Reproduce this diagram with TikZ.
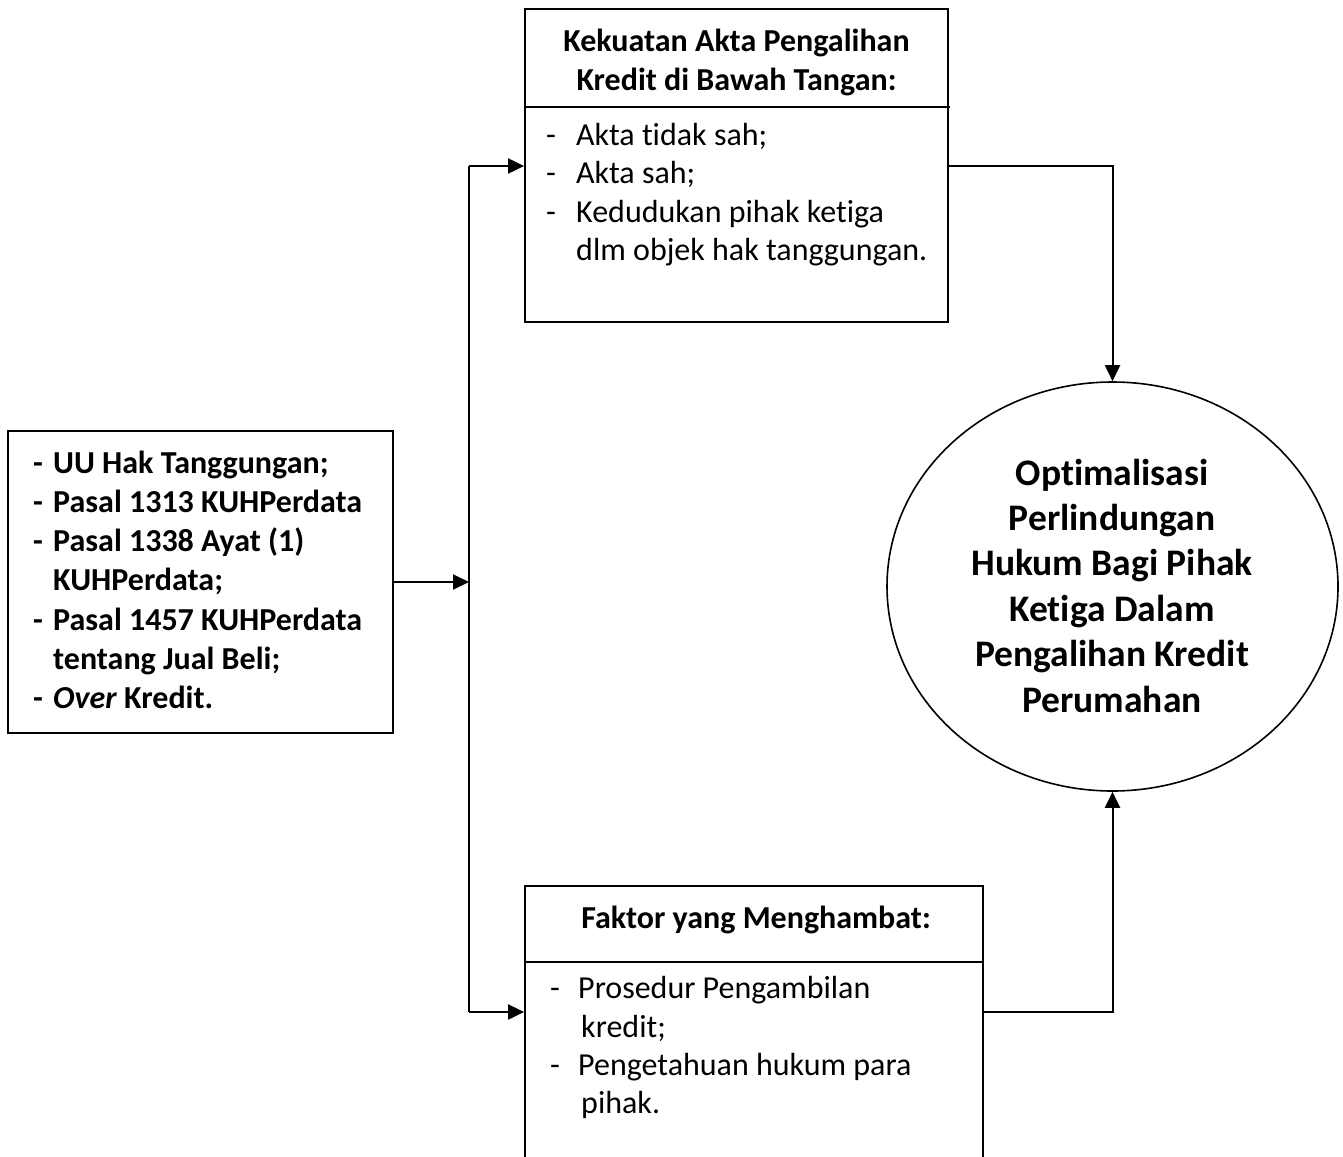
\documentclass[tikz,border=0pt]{standalone}
\usepackage{fontspec}
\setmainfont{Carlito}[Ligatures=NoCommon]
\usetikzlibrary{arrows.meta,shapes.geometric}
\begin{document}
\begin{tikzpicture}[x=1pt,y=-1pt,
  boxshape/.style={draw,line width=1.8pt,inner sep=0pt,rectangle},
  conn/.style={line width=2pt},
  arr/.style={line width=2pt,-{Triangle[length=16pt,width=15pt]}},
  txt/.style={inner sep=0pt,anchor=base west,font=\fontsize{32}{36}\selectfont},
  btxt/.style={inner sep=0pt,anchor=base west,font=\fontsize{32}{36}\selectfont\bfseries},
  ctxt/.style={inner sep=0pt,anchor=base,font=\fontsize{32}{36}\selectfont\bfseries},
  gtxt/.style={inner sep=0pt,anchor=base,font=\fontsize{37.5}{40}\selectfont\bfseries}]
\useasboundingbox (0,0) rectangle (1343,1156);
\clip (0,0) rectangle (1343,1156);
\fill[white] (0,0) rectangle (1343,1156);
% boxes
\node[boxshape,minimum width=385pt,minimum height=302pt] (src) at (200.5,582) {};
\node[boxshape,minimum width=423pt,minimum height=313pt] (topbox) at (736.5,165.5) {};
\node[boxshape,minimum width=458pt,minimum height=330pt] (botbox) at (754,1051) {};
\node[draw,line width=1.6pt,ellipse,inner sep=0pt,minimum width=451pt,minimum height=409pt] (goal) at (1112.5,586.5) {};
\draw[line width=1.8pt] (topbox.west |- 0,107) -- (950,107);
\draw[line width=1.8pt] (botbox.west |- 0,962) -- (botbox.east |- 0,962);
% left box text
\node[btxt] (s1d) at (33,473) {-};
\node[btxt] (s1) at (53,473) {UU Hak Tanggungan;};
\node[btxt] (s2d) at (33,512) {-};
\node[btxt] (s2) at (53,512) {Pasal 1313 KUHPerdata};
\node[btxt] (s3d) at (33,551) {-};
\node[btxt] (s3) at (53,551) {Pasal 1338 Ayat (1)};
\node[btxt] (s4) at (53,590) {KUHPerdata;};
\node[btxt] (s5d) at (33,630) {-};
\node[btxt] (s5) at (53,630) {Pasal 1457 KUHPerdata};
\node[btxt] (s6) at (53,669) {tentang Jual Beli;};
\node[btxt] (s7d) at (33,708) {-};
\node[btxt] (s7) at (53,708) {\textit{Over} Kredit.};
% top box text
\node[ctxt] (t0a) at (736.5,52) {Kekuatan Akta Pengalihan};
\node[ctxt] (t0b) at (736.5,90) {Kredit di Bawah Tangan:};
\node[txt] (t1d) at (546,145) {-};
\node[txt] (t1) at (576,145) {Akta tidak sah;};
\node[txt] (t2d) at (546,183) {-};
\node[txt] (t2) at (576,183) {Akta sah;};
\node[txt] (t3d) at (546,222) {-};
\node[txt] (t3) at (576,222) {Kedudukan pihak ketiga};
\node[txt] (t4) at (576,260) {dlm objek hak tanggungan.};
% bottom box text
\node[ctxt] (b0) at (756,928) {Faktor yang Menghambat:};
\node[txt] (b1d) at (550,998) {-};
\node[txt] (b1) at (578,998) {Prosedur Pengambilan};
\node[txt] (b2) at (581,1037) {kredit;};
\node[txt] (b3d) at (550,1075) {-};
\node[txt] (b3) at (578,1075) {Pengetahuan hukum para};
\node[txt] (b4) at (581,1113) {pihak.};
% goal text
\node[gtxt] (g1) at (1112,485) {Optimalisasi};
\node[gtxt] (g2) at (1112,530) {Perlindungan};
\node[gtxt] (g3) at (1112,575) {Hukum Bagi Pihak};
\node[gtxt] (g4) at (1112,621) {Ketiga Dalam};
\node[gtxt] (g5) at (1112,666) {Pengalihan Kredit};
\node[gtxt] (g6) at (1112,712) {Perumahan};
% connectors
\coordinate (jm) at (469,582);
\coordinate (jt) at (469,166);
\coordinate (jb) at (469,1012);
\draw[arr] (src.east) -- (jm);
\draw[conn] (jt) -- (jb);
\draw[arr] (jt) -- (jt -| topbox.west);
\draw[arr] (jb) -- (jb -| botbox.west);
\draw[arr] (topbox.east |- jt) -| (goal.north);
\draw[arr] (botbox.east |- jb) -| (goal.south);
\end{tikzpicture}
\end{document}
